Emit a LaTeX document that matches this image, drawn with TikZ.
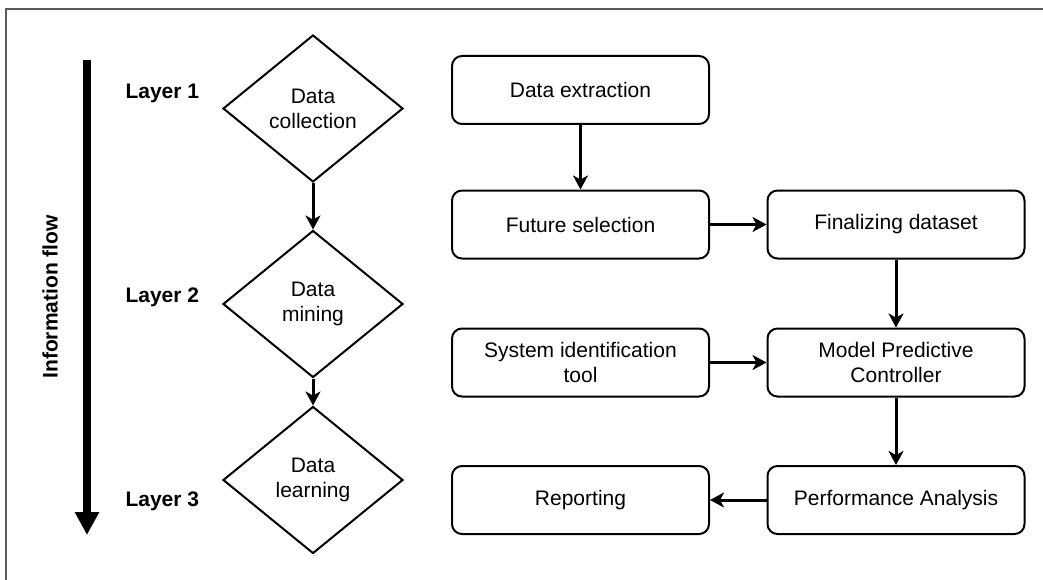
\documentclass[tikz,border=0pt]{standalone}
\usepackage{fontspec}
\setmainfont{Liberation Sans}
\usetikzlibrary{shapes.geometric,arrows.meta}

\begin{document}
\begin{tikzpicture}[x=1pt,y=-1pt,
     font=\fontsize{21}{25}\selectfont,
     stepbox/.style={draw,line width=2pt,rounded corners=10pt,
          minimum width=257pt,minimum height=68pt,align=center},
     layerbox/.style={draw,diamond,line width=2pt,aspect=1.22,
          minimum width=180pt,minimum height=147pt,inner sep=1pt,
          align=center},
     layertext/.style={anchor=west,font=\fontsize{21}{25}\selectfont\bfseries},
     flowarrow/.style={line width=3pt,
          -{Stealth[length=14pt,width=15pt,inset=4pt]}}]

\useasboundingbox (0,0) rectangle (1043,580);

\draw[black!65,line width=2pt]
     (6,580) -- (6,9) -- (1043,9);

\coordinate (flowTop) at (87,60);
\coordinate (flowEnd) at (87,535);
\draw[line width=8.5pt,
      -{Triangle[length=23pt,width=23pt]}]
     (flowTop) -- (flowEnd);
\node[rotate=90,font=\fontsize{21}{25}\selectfont\bfseries]
     at (50,297) (flowCap)
     {Information flow};

\node[layertext] at (122,93) (layOne) {Layer 1};
\node[layertext] at (122,297) (layTwo) {Layer 2};
\node[layertext] at (122,501) (layThree) {Layer 3};

\node[layerbox] at (313,108.5) (collect)
     {Data\\collection};
\node[layerbox] at (313,304) (mining)
     {Data\\mining};
\node[layerbox] at (313,480) (learning)
     {Data\\learning};

\node[stepbox] at (580.5,90) (extract)
     {Data extraction};
\node[stepbox] at (580.5,224.5) (select)
     {Future selection};
\node[stepbox] at (896,224.5) (final)
     {Finalizing dataset};
\node[stepbox] at (580.5,362.5) (sysId)
     {System identification\\tool};
\node[stepbox] at (896,362.5) (mpc)
     {Model Predictive\\Controller};
\node[stepbox] at (580.5,500) (report)
     {Reporting};
\node[stepbox] at (896,500) (perf)
     {Performance Analysis};

\draw[flowarrow] (collect.south) -- (mining.north);
\draw[flowarrow] (mining.south) -- (learning.north);

\draw[flowarrow] (extract) -- (select);
\draw[flowarrow] (select) -- (final);
\draw[flowarrow] (final) -- (mpc);
\draw[flowarrow] (sysId) -- (mpc);
\draw[flowarrow] (mpc) -- (perf);
\draw[flowarrow] (perf) -- (report);

\end{tikzpicture}
\end{document}
